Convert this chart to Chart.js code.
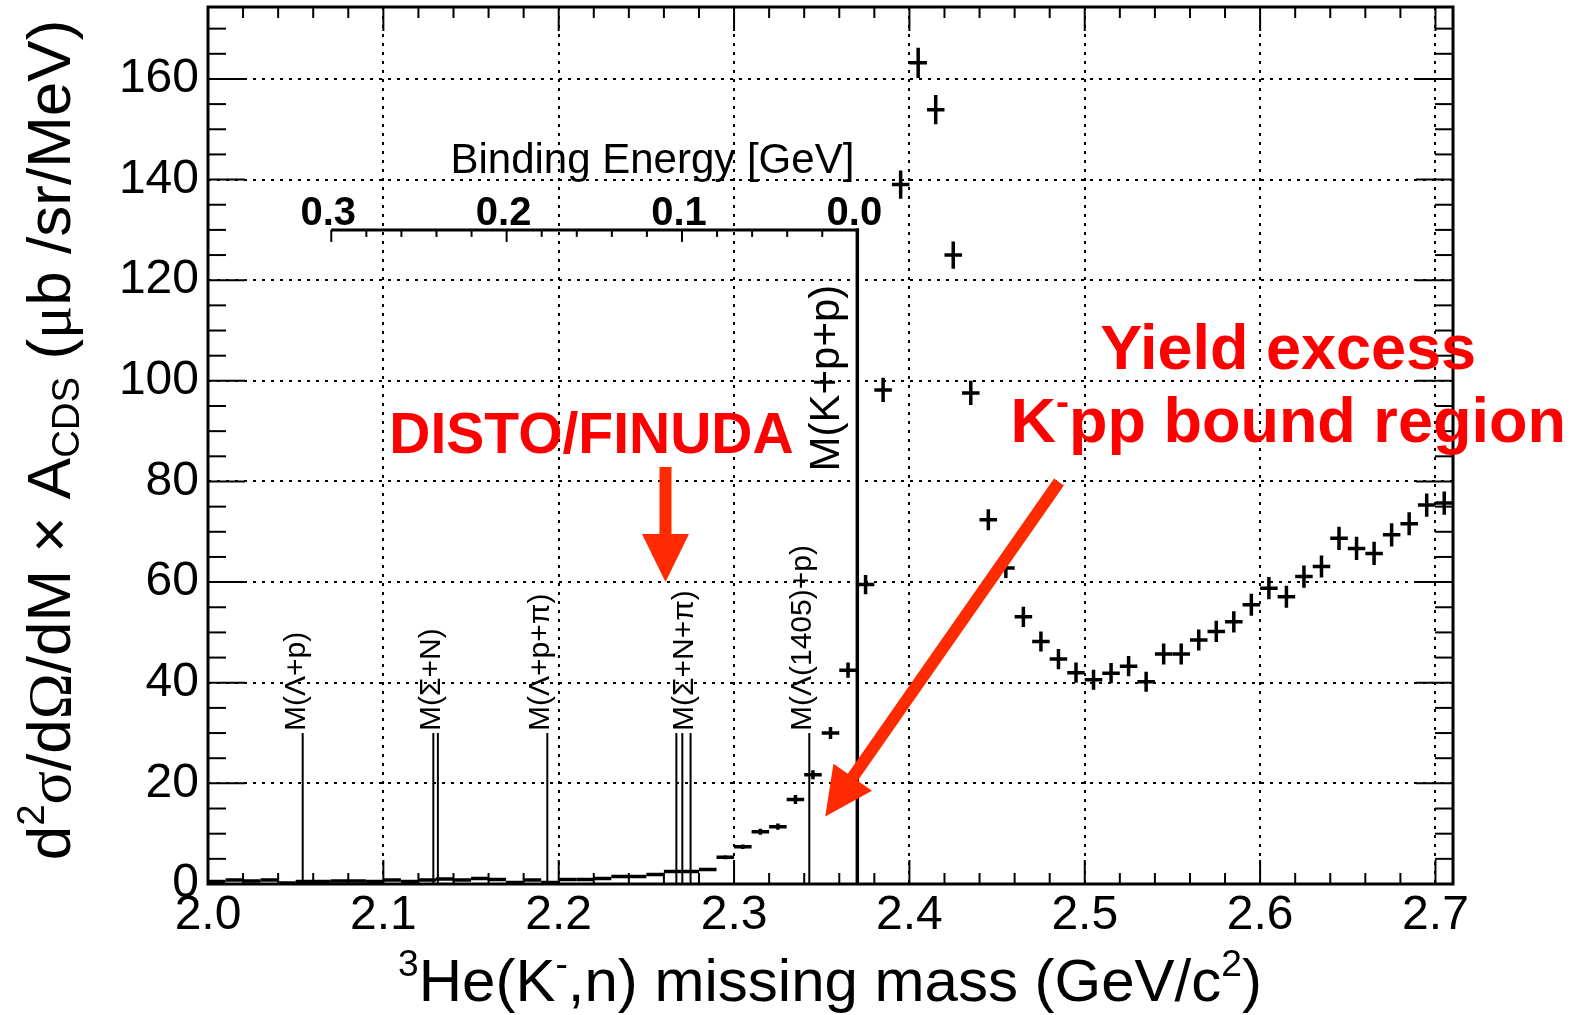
<!DOCTYPE html>
<html>
<head>
<meta charset="utf-8">
<script src="https://cdn.jsdelivr.net/npm/chart.js@4.4.1/dist/chart.umd.min.js"></script>
<style>
  html, body { margin: 0; padding: 0; background: #fff; }
  canvas { display: block; }
</style>
</head>
<body>
<canvas id="MissingMass" width="1575" height="1015"></canvas>
<script>
// 3He(K-,n) missing mass spectrum, 10 MeV bins
const massCenters = [
  2.005, 2.015, 2.025, 2.035, 2.045, 2.055, 2.065, 2.075, 2.085, 2.095,
  2.105, 2.115, 2.125, 2.135, 2.145, 2.155, 2.165, 2.175, 2.185, 2.195,
  2.205, 2.215, 2.225, 2.235, 2.245, 2.255, 2.265, 2.275, 2.285, 2.295,
  2.305, 2.315, 2.325, 2.335, 2.345, 2.355, 2.365, 2.375, 2.385, 2.395,
  2.405, 2.415, 2.425, 2.435, 2.445, 2.455, 2.465, 2.475, 2.485, 2.495,
  2.505, 2.515, 2.525, 2.535, 2.545, 2.555, 2.565, 2.575, 2.585, 2.595,
  2.605, 2.615, 2.625, 2.635, 2.645, 2.655, 2.665, 2.675, 2.685, 2.695,
  2.705,
];
const binHalfWidth = 0.005;

const yieldValues = [
  0.5, 0.8, 0.6, 0.8, 0.2, 0.5, 0.5, 0.6, 0.6, 0.5,
  0.8, 0.5, 0.8, 1.0, 0.8, 1.1, 0.9, 0.3, 0.8, 0.3,
  0.9, 0.9, 1.1, 1.5, 1.5, 1.9, 2.5, 2.5, 2.9, 5.3,
  7.4, 10.4, 11.4, 16.8, 21.7, 30.0, 42.5, 59.5, 98.2, 139.0,
  163.2, 153.9, 125.0, 97.6, 72.4, 62.8, 53.1, 48.2, 44.7, 42.0,
  40.6, 41.9, 43.3, 40.2, 45.7, 45.7, 48.5, 50.2, 52.1, 55.5,
  58.8, 57.1, 61.1, 63.1, 68.7, 66.7, 65.7, 69.4, 71.6, 75.3,
  75.7,
];

const yieldErrors = [
  0.35, 0.35, 0.35, 0.35, 0.35, 0.35, 0.35, 0.35, 0.35, 0.35,
  0.35, 0.35, 0.35, 0.35, 0.35, 0.35, 0.35, 0.35, 0.35, 0.35,
  0.35, 0.35, 0.35, 0.35, 0.35, 0.35, 0.35, 0.35, 0.35, 0.4,
  0.45, 0.6, 0.6, 0.9, 0.9, 1.2, 1.5, 1.9, 2.4, 2.8,
  3.0, 2.9, 2.7, 2.4, 2.1, 2.0, 2.0, 2.0, 2.0, 2.0,
  2.0, 2.0, 2.0, 2.0, 2.1, 2.1, 2.1, 2.1, 2.1, 2.2,
  2.2, 2.2, 2.2, 2.2, 2.3, 2.3, 2.3, 2.3, 2.3, 2.3,
  2.3,
];

// axis ticks
const xTickValues = [2.0, 2.1, 2.2, 2.3, 2.4, 2.5, 2.6, 2.7];
const yTickValues = [0, 20, 40, 60, 80, 100, 120, 140, 160];
const bindingTickLabels = ["0.3", "0.2", "0.1", "0.0"];
const bindingTickValues = [0.3, 0.2, 0.1, 0.0];

// decay thresholds (GeV/c2)
const thresholdLines = [2.0540, 2.1285, 2.1311, 2.1935, 2.2671, 2.2705, 2.2752, 2.3429];
const thresholdLabels = ["M(Λ+p)", "M(Σ+N)", "M(Λ+p+π)", "M(Σ+N+π)", "M(Λ(1405)+p)"];
const thresholdLabelMass = [2.0540, 2.1311, 2.1935, 2.2752, 2.3429];
const thresholdHeight = 30;
const kppMass = 2.3703;
const kppLineTop = 130;
const kppLabel = "M(K+p+p)";
const kppLabelBottom = 82;

const SANS = "'Liberation Sans', Arial, Helvetica, sans-serif";
const SERIF = "'Liberation Serif', 'Times New Roman', serif";
const RED_TEXT = "#ff0000";
const RED_ARROW = "#ff2a00";

function segFont(s, size) {
  const sz = (s.sup || s.sub) ? size * 0.62 : size;
  return (s.bold ? "bold " : "") + sz + "px " + (s.serif ? SERIF : SANS);
}

function drawRich(ctx, segs, size, x, y, align) {
  let w = 0;
  segs.forEach(s => { ctx.font = segFont(s, size); w += ctx.measureText(s.t).width; });
  let cx = align === "right" ? x - w : align === "center" ? x - w / 2 : x;
  ctx.textAlign = "left";
  ctx.textBaseline = "alphabetic";
  segs.forEach(s => {
    ctx.font = segFont(s, size);
    const dy = s.sup ? -0.42 * size : s.sub ? 0.14 * size : 0;
    ctx.fillText(s.t, cx, y + dy);
    cx += ctx.measureText(s.t).width;
  });
}

function drawArrow(ctx, x0, y0, x1, y1, shaft, headLen, headHalf) {
  const dx = x1 - x0, dy = y1 - y0;
  const len = Math.hypot(dx, dy);
  const ux = dx / len, uy = dy / len;
  const nx = -uy, ny = ux;
  const bx = x1 - ux * headLen, by = y1 - uy * headLen;
  ctx.beginPath();
  ctx.moveTo(x0 + nx * shaft / 2, y0 + ny * shaft / 2);
  ctx.lineTo(bx + nx * shaft / 2, by + ny * shaft / 2);
  ctx.lineTo(bx + nx * headHalf, by + ny * headHalf);
  ctx.lineTo(x1, y1);
  ctx.lineTo(bx - nx * headHalf, by - ny * headHalf);
  ctx.lineTo(bx - nx * shaft / 2, by - ny * shaft / 2);
  ctx.lineTo(x0 - nx * shaft / 2, y0 - ny * shaft / 2);
  ctx.closePath();
  ctx.fill();
}

function line(ctx, x0, y0, x1, y1) {
  ctx.beginPath();
  ctx.moveTo(x0, y0);
  ctx.lineTo(x1, y1);
  ctx.stroke();
}

const rootStyle = {
  id: "rootStyle",
  beforeDatasetsDraw(chart) {
    const { ctx, chartArea: a, scales: { x, y } } = chart;
    ctx.save();
    ctx.strokeStyle = "#000";
    ctx.lineWidth = 2;
    ctx.setLineDash([3, 6]);
    xTickValues.forEach(v => {
      const px = Math.round(x.getPixelForValue(v));
      if (px > a.left + 2) line(ctx, px, a.top, px, a.bottom);
    });
    yTickValues.forEach(v => {
      const py = Math.round(y.getPixelForValue(v));
      if (py < a.bottom - 2) line(ctx, a.left, py, a.right, py);
    });
    ctx.restore();
  },
  afterDatasetsDraw(chart) {
    const { ctx, chartArea: a, scales: { x, y } } = chart;
    ctx.save();
    ctx.strokeStyle = "#000";
    ctx.fillStyle = "#000";
    ctx.setLineDash([]);

    // data points with error bars
    ctx.save();
    ctx.beginPath();
    ctx.rect(a.left, a.top, a.right - a.left, a.bottom - a.top);
    ctx.clip();
    ctx.lineWidth = 3.5;
    massCenters.forEach((m, i) => {
      const pc = x.getPixelForValue(m);
      const p0 = x.getPixelForValue(m - binHalfWidth);
      const p1 = x.getPixelForValue(m + binHalfWidth);
      const py = y.getPixelForValue(yieldValues[i]);
      const lo = y.getPixelForValue(yieldValues[i] - yieldErrors[i]);
      const hi = y.getPixelForValue(yieldValues[i] + yieldErrors[i]);
      ctx.beginPath();
      ctx.moveTo(p0, py); ctx.lineTo(p1, py);
      ctx.moveTo(pc, lo); ctx.lineTo(pc, hi);
      ctx.stroke();
    });
    ctx.restore();

    // threshold lines
    const y0 = y.getPixelForValue(0);
    const yThr = y.getPixelForValue(thresholdHeight);
    ctx.lineWidth = 2;
    thresholdLines.forEach(m => {
      const px = x.getPixelForValue(m);
      line(ctx, px, y0, px, yThr);
    });
    ctx.font = "30px " + SANS;
    ctx.textAlign = "left";
    ctx.textBaseline = "alphabetic";
    thresholdLabels.forEach((t, i) => {
      const px = x.getPixelForValue(thresholdLabelMass[i]);
      ctx.save();
      ctx.translate(px + 2, yThr - 2);
      ctx.rotate(-Math.PI / 2);
      ctx.fillText(t, 0, 0);
      ctx.restore();
    });

    // M(K+p+p) line and binding energy axis
    const pk = x.getPixelForValue(kppMass);
    const yTop = y.getPixelForValue(kppLineTop);
    ctx.lineWidth = 3.5;
    line(ctx, pk, y0, pk, yTop - 1.5);
    ctx.save();
    ctx.font = "42px " + SANS;
    ctx.translate(pk - 18, y.getPixelForValue(kppLabelBottom));
    ctx.rotate(-Math.PI / 2);
    ctx.fillText(kppLabel, 0, 0);
    ctx.restore();

    const pb0 = x.getPixelForValue(kppMass - 0.3);
    ctx.lineWidth = 3;
    line(ctx, pb0, yTop, pk + 1.5, yTop);
    ctx.lineWidth = 2;
    for (let k = 0; k <= 15; k++) {
      const px = x.getPixelForValue(kppMass - 0.02 * k);
      const len = k % 5 === 0 ? 12 : 7;
      line(ctx, px, yTop, px, yTop + len);
    }
    ctx.font = "bold 40px " + SANS;
    ctx.textAlign = "center";
    bindingTickLabels.forEach((t, i) => {
      const px = x.getPixelForValue(kppMass - bindingTickValues[i]);
      ctx.fillText(t, px - 3, yTop - 5);
    });
    ctx.font = "42px " + SANS;
    ctx.textAlign = "right";
    ctx.fillText("Binding Energy [GeV]", pk - 3, yTop - 57);

    // frame and ticks
    ctx.lineWidth = 3;
    ctx.strokeRect(a.left, a.top, a.right - a.left, a.bottom - a.top);
    ctx.lineWidth = 2;
    for (let v = 0; v <= 170; v += 5) {
      const py = y.getPixelForValue(v);
      const len = v % 20 === 0 ? 37 : 18;
      line(ctx, a.left, py, a.left + len, py);
      line(ctx, a.right, py, a.right - len, py);
    }
    for (let k = 0; k <= 35; k++) {
      const px = x.getPixelForValue(2.0 + 0.02 * k);
      const len = k % 5 === 0 ? 24 : 11;
      line(ctx, px, a.bottom, px, a.bottom - len);
      line(ctx, px, a.top, px, a.top + len);
    }

    // axis titles
    drawRich(ctx, [
      { t: "3", sup: true }, { t: "He(K" }, { t: "-", sup: true },
      { t: ",n) missing mass (GeV/c" }, { t: "2", sup: true }, { t: ")" },
    ], 60, 830, 1001, "center");

    ctx.save();
    ctx.translate(70, 440);
    ctx.rotate(-Math.PI / 2);
    drawRich(ctx, [
      { t: "d" }, { t: "2", sup: true }, { t: "σ", serif: true }, { t: "/d" },
      { t: "Ω", serif: true }, { t: "/dM × A" }, { t: "CDS", sub: true },
      { t: " (" }, { t: "μ", serif: true }, { t: "b /sr/MeV)" },
    ], 62, 0, 0, "center");
    ctx.restore();

    // annotations
    ctx.fillStyle = RED_TEXT;
    ctx.textAlign = "center";
    ctx.font = "bold 57px " + SANS;
    ctx.fillText("DISTO/FINUDA", x.getPixelForValue(2.2187), y.getPixelForValue(85.7));
    ctx.font = "bold 63px " + SANS;
    ctx.fillText("Yield excess", x.getPixelForValue(2.6160), y.getPixelForValue(102.4));
    drawRich(ctx, [
      { t: "K", bold: true }, { t: "-", sup: true, bold: true }, { t: "pp bound region", bold: true },
    ], 63, x.getPixelForValue(2.6160), y.getPixelForValue(87.9), "center");

    ctx.fillStyle = RED_ARROW;
    drawArrow(ctx, x.getPixelForValue(2.2609), y.getPixelForValue(82.9),
      x.getPixelForValue(2.2609), y.getPixelForValue(60.0), 12, 48, 23.5);
    drawArrow(ctx, x.getPixelForValue(2.4853), y.getPixelForValue(79.9),
      x.getPixelForValue(2.3520), y.getPixelForValue(13.4), 12, 48, 23.5);

    ctx.restore();
  },
};

function noPadding(scale) {
  scale.paddingTop = 0;
  scale.paddingBottom = 0;
  scale.paddingLeft = 0;
  scale.paddingRight = 0;
}

new Chart(document.getElementById("MissingMass"), {
  type: "scatter",
  data: {
    datasets: [
      {
        label: "3He(K-,n)",
        data: massCenters.map((m, i) => ({ x: m, y: yieldValues[i] })),
        pointRadius: 0,
        pointHoverRadius: 0,
        showLine: false,
      },
    ],
  },
  options: {
    responsive: false,
    devicePixelRatio: 1,
    animation: false,
    events: [],
    layout: { padding: { left: 0, right: 122, top: 7, bottom: 0 } },
    plugins: { legend: { display: false }, tooltip: { enabled: false } },
    scales: {
      x: {
        type: "linear",
        min: 2.0,
        max: 2.71,
        grid: { display: false, drawTicks: false },
        border: { display: false },
        afterBuildTicks: s => { s.ticks = xTickValues.map(v => ({ value: v })); },
        afterFit: s => { s.height = 131; noPadding(s); },
        ticks: {
          autoSkip: false,
          maxRotation: 0,
          padding: 3,
          color: "#000",
          font: { family: SANS, size: 48 },
          callback: v => Number(v).toFixed(1),
        },
      },
      y: {
        type: "linear",
        min: 0,
        max: 174.3,
        grid: { display: false, drawTicks: false },
        border: { display: false },
        afterBuildTicks: s => { s.ticks = yTickValues.map(v => ({ value: v })); },
        afterFit: s => { s.width = 208; noPadding(s); },
        ticks: {
          padding: 9,
          color: "#000",
          font: { family: SANS, size: 48 },
          callback: v => String(v),
        },
      },
    },
  },
  plugins: [rootStyle],
});
</script>
</body>
</html>
